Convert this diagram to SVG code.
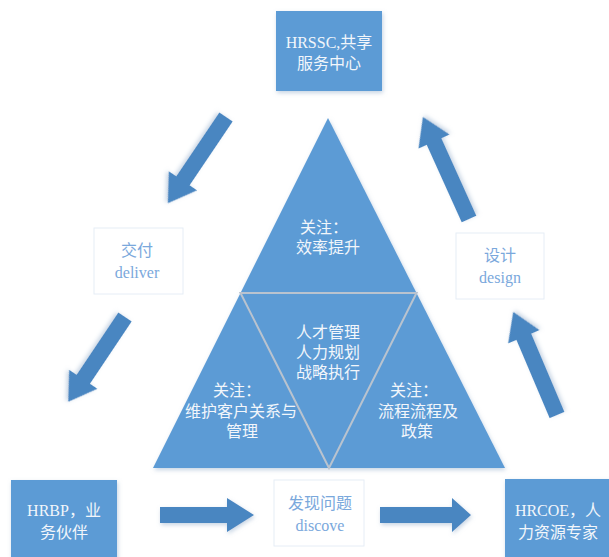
<svg xmlns="http://www.w3.org/2000/svg" width="609" height="557" viewBox="0 0 609 557">
<defs>
<filter id="sh" x="-20%" y="-20%" width="140%" height="140%">
<feDropShadow dx="1" dy="2" stdDeviation="2" flood-color="#8fa9c8" flood-opacity="0.5"/>
</filter>
<style>
text{font-family:"Liberation Serif","Noto Sans CJK SC",serif;font-size:16px;text-anchor:middle;dominant-baseline:central}
.box{fill:#5b9bd5;filter:url(#sh)}
.wt{fill:#f2f6fb}
.lbox{fill:#ffffff;stroke:#e6edf6;stroke-width:1}
.bt{fill:#7aa8dc}
.arr{fill:#4a86c1;filter:url(#sh)}
.tri{fill:#5b9bd5}
.div{fill:none;stroke:#b9c3cf;stroke-width:2}
</style>
</defs>
<rect width="609" height="557" fill="#ffffff"/>

<g id="pyramid">
<polygon class="tri" points="328,118 153,468 505,468" filter="url(#sh)"/>
<polygon class="div" points="240.5,293 416.5,293 329,468"/>
</g>
<g id="top-focus">
<text class="wt" x="324" y="227">关注：</text>
<text class="wt" x="328" y="247">效率提升</text>
</g>
<g id="center-focus">
<text class="wt" x="328" y="332">人才管理</text>
<text class="wt" x="328" y="352">人力规划</text>
<text class="wt" x="328" y="372">战略执行</text>
</g>
<g id="left-focus">
<text class="wt" x="237" y="390">关注：</text>
<text class="wt" x="241" y="411">维护客户关系与</text>
<text class="wt" x="242" y="431">管理</text>
</g>
<g id="right-focus">
<text class="wt" x="414" y="390">关注：</text>
<text class="wt" x="418" y="411">流程流程及</text>
<text class="wt" x="417" y="431">政策</text>
</g>

<g id="hrssc">
<rect class="box" x="276" y="11" width="106" height="80"/>
<text class="wt" x="329" y="42">HRSSC,共享</text>
<text class="wt" x="329" y="63">服务中心</text>
</g>
<g id="hrbp">
<rect class="box" x="11" y="480" width="106" height="80"/>
<text class="wt" x="64" y="510">HRBP，业</text>
<text class="wt" x="64" y="532">务伙伴</text>
</g>
<g id="hrcoe">
<rect class="box" x="505" y="479" width="110" height="82"/>
<text class="wt" x="558" y="510">HRCOE，人</text>
<text class="wt" x="558" y="532">力资源专家</text>
</g>
<g id="deliver">
<rect class="lbox" x="94" y="228" width="89" height="66"/>
<text class="bt" x="137" y="250">交付</text>
<text class="bt" x="137" y="272">deliver</text>
</g>
<g id="design">
<rect class="lbox" x="456" y="233" width="88" height="66"/>
<text class="bt" x="500" y="255">设计</text>
<text class="bt" x="500" y="277">design</text>
</g>
<g id="discove">
<rect class="lbox" x="274" y="480" width="90" height="66"/>
<text class="bt" x="320" y="503">发现问题</text>
<text class="bt" x="320" y="525">discove</text>
</g>

<g id="connectors">
<polygon class="arr" transform="translate(226,117) rotate(124)" points="0,-8 77,-8 77,-17 104,0 77,17 77,8 0,8"/>
<polygon class="arr" transform="translate(125,317) rotate(123.8)" points="0,-8 75,-8 75,-17 102,0 75,17 75,8 0,8"/>
<polygon class="arr" transform="translate(160,515)" points="0,-8 67,-8 67,-17 94,0 67,17 67,8 0,8"/>
<polygon class="arr" transform="translate(380,515)" points="0,-8 72,-8 72,-17 91,0 72,17 72,8 0,8"/>
<polygon class="arr" transform="translate(557,415) rotate(-113)" points="0,-8 85,-8 85,-17 112,0 85,17 85,8 0,8"/>
<polygon class="arr" transform="translate(469,219) rotate(-114.3)" points="0,-8 85,-8 85,-17 112,0 85,17 85,8 0,8"/>
</g>
</svg>
